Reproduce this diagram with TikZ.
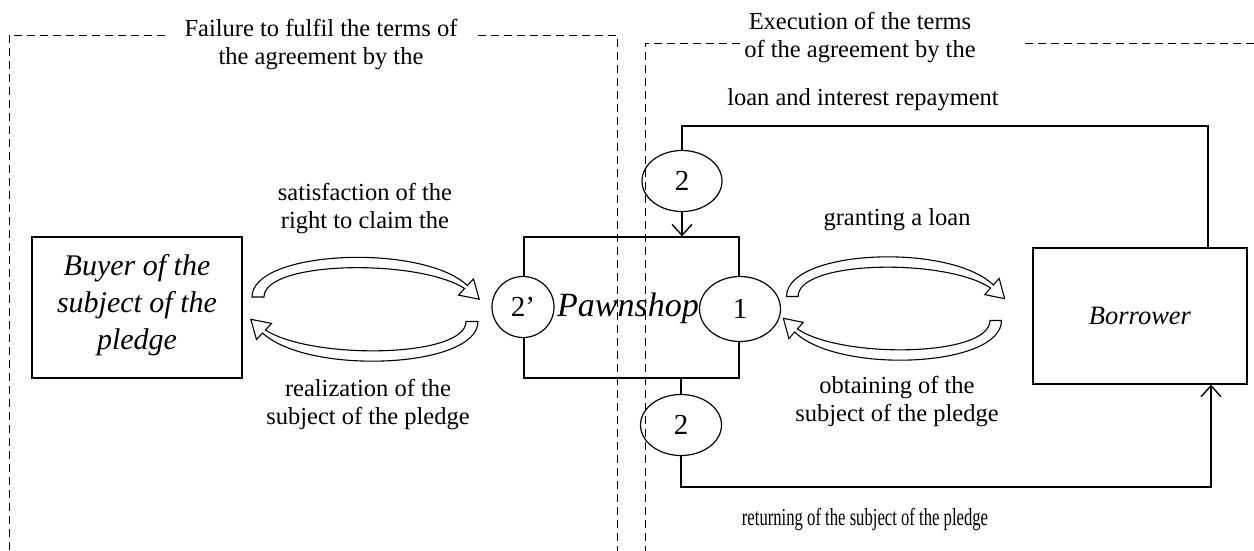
\documentclass[tikz,border=0pt]{standalone}
\usepackage{fontspec}
\setmainfont{Liberation Serif}
\usetikzlibrary{arrows.meta,shapes.geometric}
\tikzset{
  box/.style={draw, line width=1.3pt, rectangle, minimum width=#1, inner sep=0pt},
  ell/.style={draw, line width=1.2pt, ellipse, inner sep=0pt, font=\fontsize{29}{32}\selectfont},
  lbl/.style={align=center, inner sep=0pt, font=\fontsize{24.5}{28}\selectfont},
  frame/.style={line width=1pt, dash pattern=on 8pt off 5pt},
  conn/.style={line width=1.3pt},
  vtip/.style={-{Straight Barb[length=11pt,width=20pt,line width=1.4pt]}},
  curvarr/.pic={
    \filldraw[fill=white, draw=black, line width=1.1pt, line join=miter]
      (-113,-10.5) .. controls (-113,-57.5) and (57,-64.5) .. (102.4,-22)
      -- (108.5,-28.6) -- (114.2,-8.3) -- (93.5,-12.4) -- (99.6,-19)
      .. controls (53,-49) and (-101,-47) .. (-101,-10.5) -- cycle;
  }
}
\begin{document}
\begin{tikzpicture}[x=1pt,y=-1pt]
\useasboundingbox (0,0) rectangle (1254,550);
% frames
\draw[frame] (165,35) -- (9,35) -- (9,560);
\draw[frame] (478,35) -- (617,35) -- (617,560);
\draw[frame] (740,43) -- (645,43) -- (645,560);
\draw[frame] (1025,43) -- (1260,43);
% titles
\node[lbl] (t1) at (321,45) {Failure to fulfil the terms of\\the agreement by the};
\node[lbl] (t2) at (860,38) {Execution of the terms\\of the agreement by the};
% boxes
\node[box=210pt, minimum height=141pt] (buyer) at (137,307.5) {};
\node[align=center, inner sep=0pt, font=\fontsize{30}{37}\selectfont\itshape] (buyertxt) at (137,305) {Buyer of the\\subject of the\\pledge};
\node[box=215pt, minimum height=141pt] (pawn) at (631.5,307.5) {};
\node[box=214pt, minimum height=136pt, font=\fontsize{26.5}{30}\selectfont\itshape] (borrower) at (1140,316) {Borrower};
% circles
\node[ell, fill=white, minimum width=62pt, minimum height=61pt] (c2p) at (523,307) {2’};
\node[ell, fill=white, minimum width=81pt, minimum height=65pt] (c1) at (740,309) {1};
\node[inner sep=0pt, font=\fontsize{34}{38}\selectfont\itshape] (pawntxt) at (628,308) {Pawnshop};
\node[ell, minimum width=80pt, minimum height=61pt] (c2a) at (682,181) {2};
\node[ell, minimum width=81pt, minimum height=61pt] (c2b) at (681,425) {2};
% connectors
\coordinate (tr) at (1208,126);
\coordinate (br) at (1211,487);
\draw[conn] (c2a.north) |- (tr) -- (tr |- borrower.north);
\draw[conn, vtip] (c2a.south) -- (c2a.south |- pawn.north);
\draw[conn] (c2b.north |- pawn.south) -- (c2b.north);
\draw[conn, vtip] (c2b.south) |- (br) -- (br |- borrower.south);
% curved arrows
\pic at (365,307.5) {curvarr};
\pic[rotate=180] at (365,311) {curvarr};
\pic[xscale=0.96] at (895,307) {curvarr};
\pic[rotate=180, xscale=0.96] at (893,310) {curvarr};
% labels
\node[lbl] (l1) at (365,209) {satisfaction of the\\right to claim the};
\node[lbl] (l2) at (368,405) {realization of the\\subject of the pledge};
\node[lbl] (l3) at (897,220) {granting a loan};
\node[lbl] (l4) at (897,402) {obtaining of the\\subject of the pledge};
\node[lbl] (l5) at (863,100) {loan and interest repayment};
\node[lbl] (l6) at (865,520) {\scalebox{0.68}[1]{returning of the subject of the pledge}};
\end{tikzpicture}
\end{document}
